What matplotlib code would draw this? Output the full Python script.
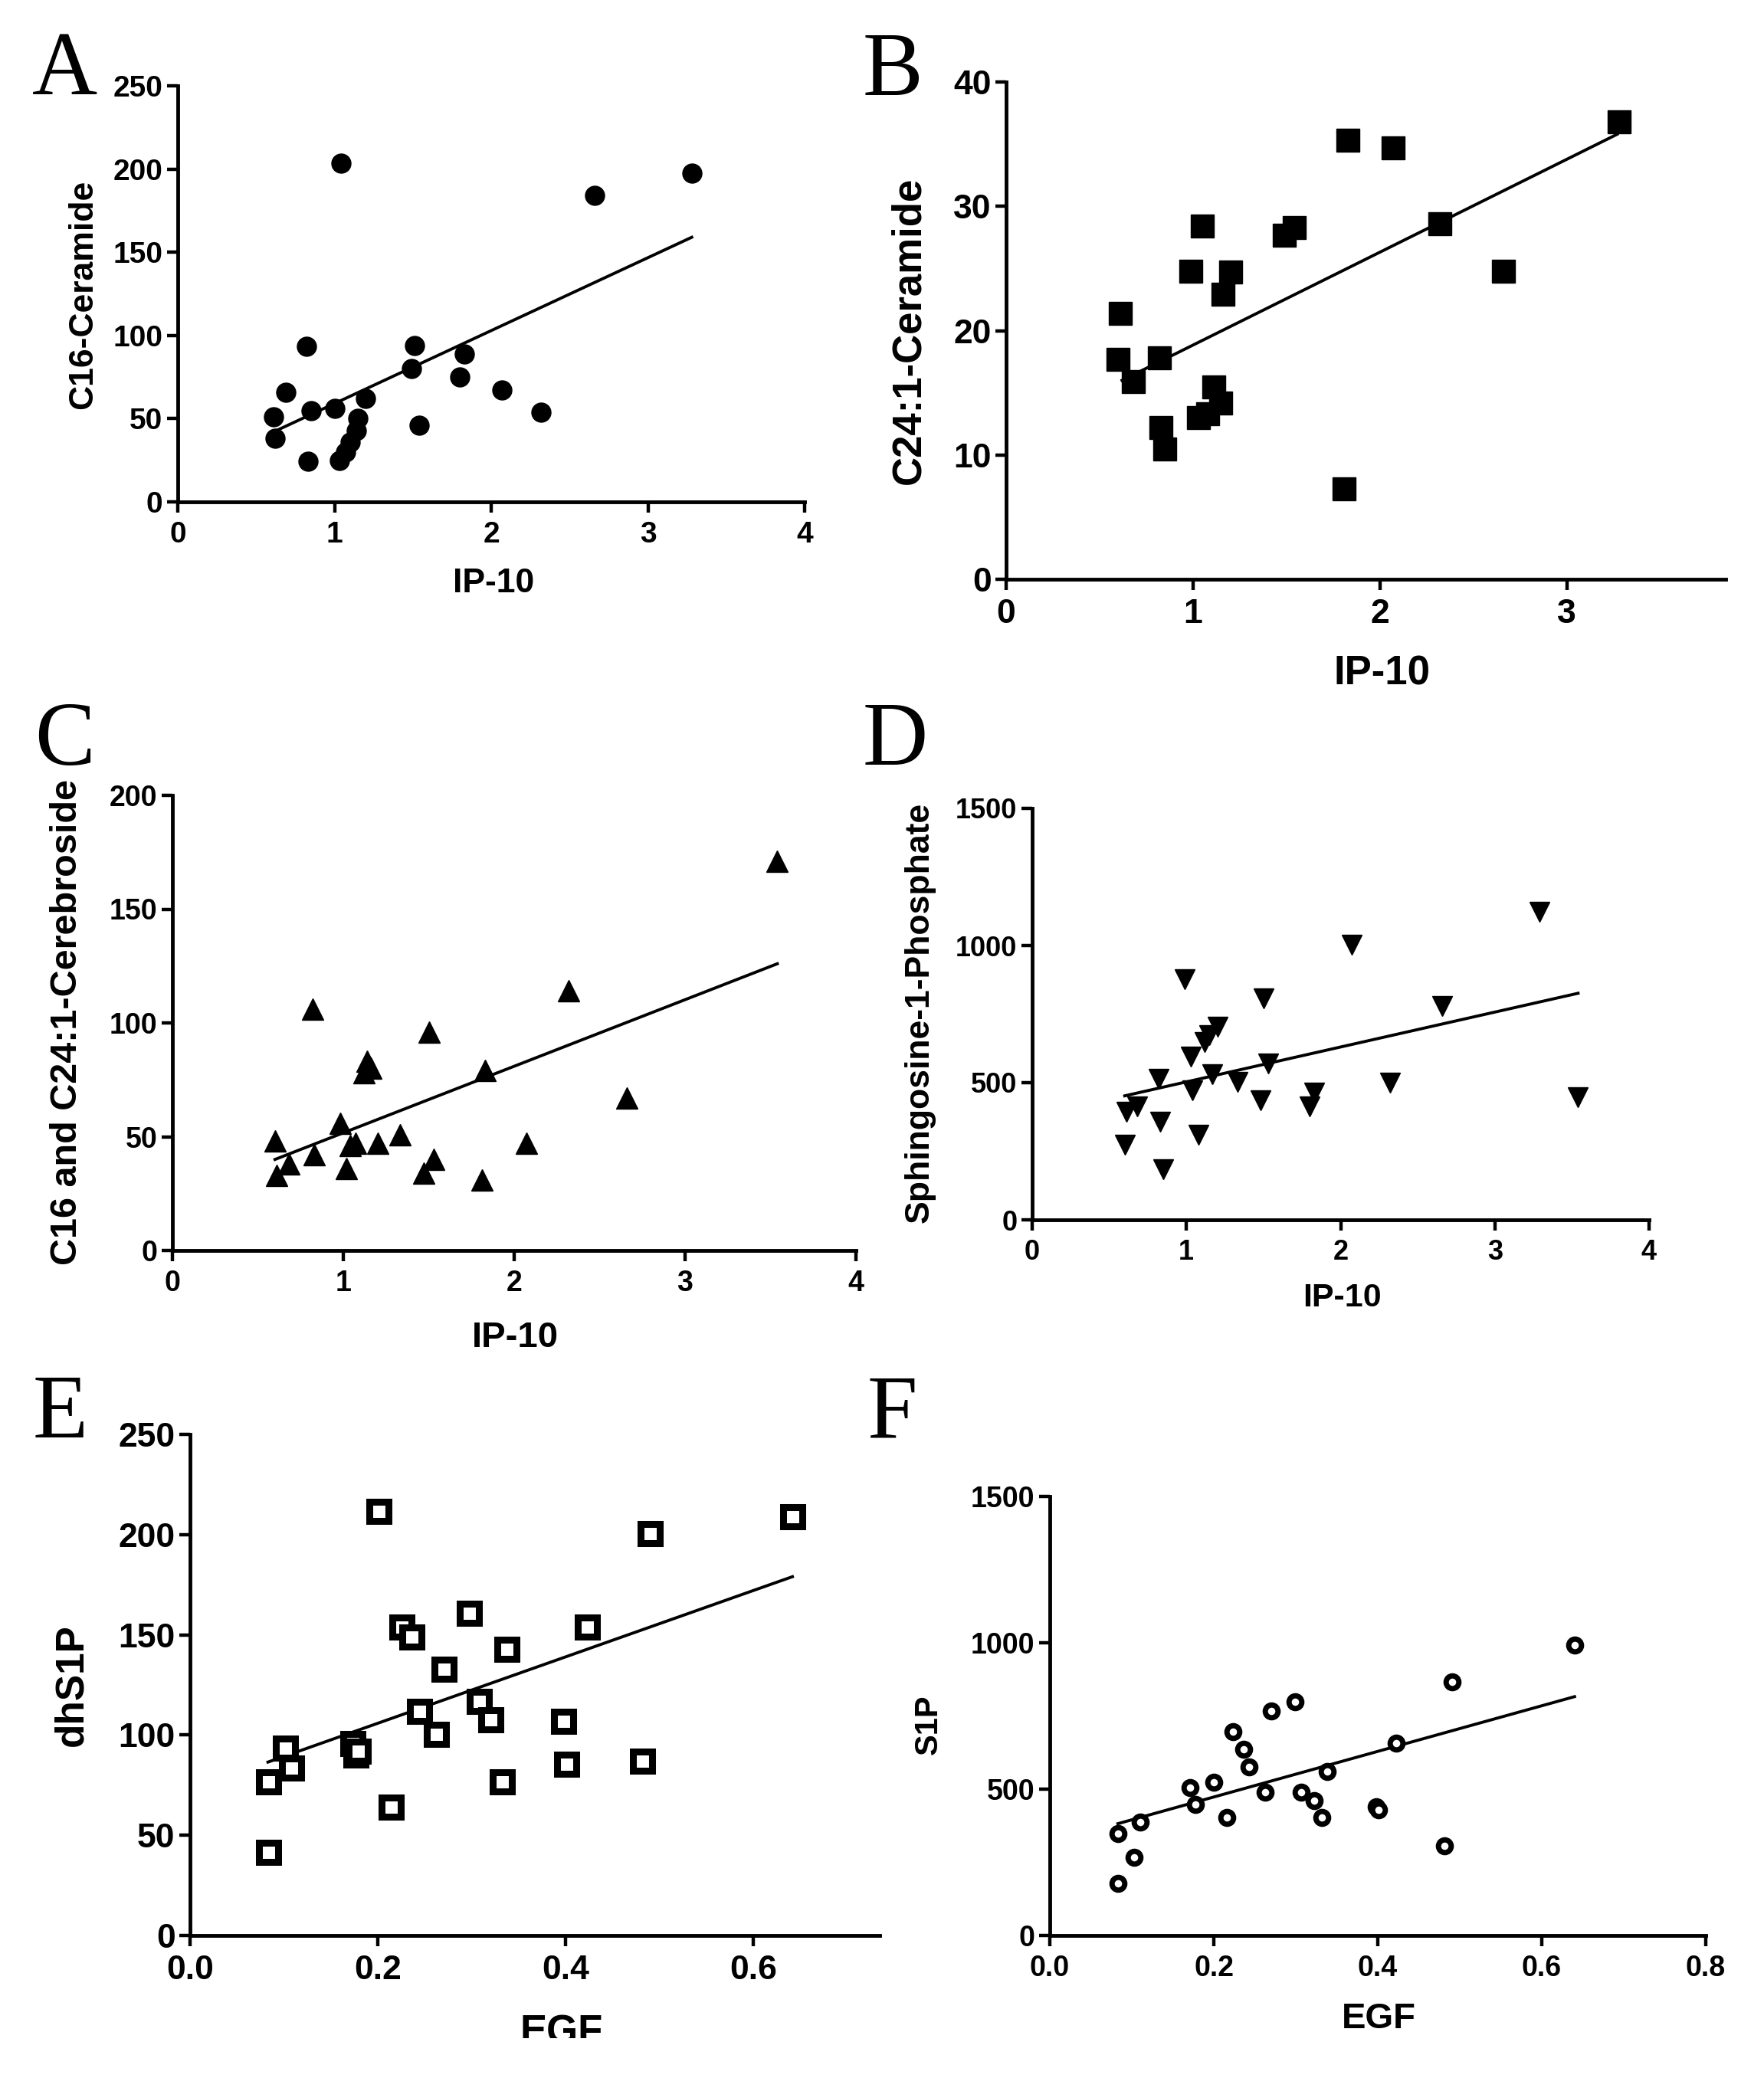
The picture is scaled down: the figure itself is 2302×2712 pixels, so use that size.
import numpy as np
import matplotlib
matplotlib.use("Agg")
import matplotlib.pyplot as plt
from matplotlib.patches import Rectangle

W, H = 2302, 2712
DPI = 100
SANS = ['Liberation Sans', 'DejaVu Sans']
SERIF = ['Liberation Serif', 'DejaVu Serif']

# ---- data ----
A_x = [0.61, 0.62, 0.69, 0.82, 0.85, 0.83, 1.00, 1.04, 1.03, 1.07, 1.10, 1.14, 1.15, 1.20,
       1.51, 1.49, 1.54, 1.80, 1.83, 2.07, 2.32, 2.66, 3.28]
A_y = [51, 38, 66, 93.5, 55, 24.5, 56, 203.5, 25, 30, 36, 43, 50, 62,
       94, 80, 46, 75, 89, 67, 54, 184, 197.5]
A_fit_x = [0.61, 3.28]
A_fit_y = [42, 159]

B_x = [0.61, 0.60, 0.68, 0.82, 0.83, 0.85, 0.99, 1.05, 1.03, 1.08, 1.11, 1.15, 1.16, 1.20,
       1.49, 1.54, 1.83, 1.81, 2.07, 2.32, 2.66, 3.28]
B_y = [21.4, 17.7, 15.9, 17.8, 12.2, 10.5, 24.8, 28.4, 13.0, 13.3, 15.5, 14.2, 22.9, 24.7,
       27.7, 28.3, 35.3, 7.3, 34.7, 28.6, 24.8, 36.8]
B_fit_x = [0.62, 3.27]
B_fit_y = [16.0, 35.8]

C_x = [0.60, 0.61, 0.68, 0.82, 0.83, 0.98, 1.02, 1.04, 1.07, 1.12, 1.14, 1.16, 1.20, 1.33,
       1.50, 1.47, 1.53, 1.83, 1.81, 2.07, 2.32, 2.66, 3.54]
C_y = [48, 33, 38, 106, 42, 56, 36, 46, 47, 78, 83, 80, 47, 51,
       96, 34, 40, 79, 31, 47, 114, 67, 171]
C_fit_x = [0.60, 3.54]
C_fit_y = [40, 126]

D_x = [0.60, 0.61, 0.68, 0.82, 0.83, 0.85, 0.99, 1.03, 1.04, 1.08, 1.12, 1.15, 1.20, 1.17,
       1.33, 1.50, 1.48, 1.53, 1.80, 1.83, 2.07, 2.32, 2.66, 3.29, 3.54]
D_y = [274, 394, 413, 515, 358, 184, 878, 594, 473, 310, 649, 673, 704, 531,
       504, 807, 436, 570, 413, 463, 1004, 500, 778, 1122, 447]
D_fit_x = [0.60, 3.54]
D_fit_y = [452, 826]

E_x = [0.083, 0.083, 0.101, 0.108, 0.173, 0.176, 0.179, 0.201, 0.214, 0.225, 0.236, 0.244,
       0.262, 0.270, 0.297, 0.308, 0.320, 0.337, 0.332, 0.398, 0.401, 0.423, 0.482, 0.490, 0.642]
E_y = [76.8, 41.8, 93.7, 83.6, 96, 90.3, 92, 211.8, 64.4, 154, 149, 112,
       100.5, 133, 161, 117, 107.7, 143, 76.8, 107, 85.8, 154, 87, 200.5, 209]
E_fit_x = [0.083, 0.642]
E_fit_y = [86.5, 179]

F_x = [0.083, 0.083, 0.103, 0.110, 0.171, 0.178, 0.200, 0.216, 0.223, 0.236, 0.243, 0.263,
       0.270, 0.299, 0.307, 0.322, 0.332, 0.338, 0.398, 0.401, 0.422, 0.481, 0.491, 0.640]
F_y = [178, 348, 268, 387, 506, 448, 523, 402, 696, 637, 577, 490,
       768, 799, 490, 461, 402, 560, 441, 430, 657, 305, 866, 993]
F_fit_x = [0.083, 0.640]
F_fit_y = [382, 816]

fig = plt.figure(figsize=(W / DPI, H / DPI), dpi=DPI)


def px_axes(x0, y0, x1, y1):
    # pixel box (left, bottom-of-plot y, right, top y) -> axes
    return fig.add_axes([x0 / W, (H - y0) / H, (x1 - x0) / W, (y0 - y1) / H])


def ftext(x, y, s, **kw):
    fig.text(x / W, 1 - y / H, s, **kw)


def panel(box, xs, ys, fx, fy, xlim, ylim, xticks, yticks, xfmt, tick_fs,
          mk, ms, mfc, mew):
    ax = px_axes(*box)
    ax.plot(xs, ys, ls='none', marker=mk, ms=ms, mfc=mfc, mec='black', mew=mew,
            clip_on=False, zorder=3)
    ax.plot(fx, fy, color='black', lw=2.8, zorder=2)
    ax.set_xlim(*xlim)
    ax.set_ylim(*ylim)
    ax.set_xticks(xticks)
    ax.set_yticks(yticks)
    ax.set_xticklabels([xfmt % t for t in xticks])
    ax.set_yticklabels(['%d' % t for t in yticks])
    for s in ['top', 'right']:
        ax.spines[s].set_visible(False)
    for s in ['left', 'bottom']:
        ax.spines[s].set_linewidth(3.5)
    ax.tick_params(axis='both', width=3.2, length=10, direction='out')
    ax.tick_params(axis='x', pad=8)
    ax.tick_params(axis='y', pad=4)
    for lab in ax.get_xticklabels() + ax.get_yticklabels():
        lab.set_family(SANS)
        lab.set_fontweight('bold')
        lab.set_fontsize(tick_fs)
    return ax


# A
panel((232, 655, 1050, 112), A_x, A_y, A_fit_x, A_fit_y, (0, 4), (0, 250),
      [0, 1, 2, 3, 4], [0, 50, 100, 150, 200, 250], '%d', 28, 'o', 18, 'black', 1)
# B
panel((1313, 756, 2252, 107), B_x, B_y, B_fit_x, B_fit_y, (0, 3.85), (0, 40),
      [0, 1, 2, 3], [0, 10, 20, 30, 40], '%d', 32, 's', 22, 'black', 1)
# C
panel((225, 1632, 1117, 1038), C_x, C_y, C_fit_x, C_fit_y, (0, 4), (0, 200),
      [0, 1, 2, 3, 4], [0, 50, 100, 150, 200], '%d', 27, '^', 20, 'black', 1)
# D
panel((1347, 1592, 2152, 1055), D_x, D_y, D_fit_x, D_fit_y, (0, 4), (0, 1500),
      [0, 1, 2, 3, 4], [0, 500, 1000, 1500], '%d', 26, 'v', 19, 'black', 1)
# E
panel((248, 2526, 1148, 1872), E_x, E_y, E_fit_x, E_fit_y, (0, 0.735), (0, 250),
      [0, 0.2, 0.4, 0.6], [0, 50, 100, 150, 200, 250], '%.1f', 32, 's', 18, 'white', 6.5)
# F
panel((1370, 2526, 2226, 1953), F_x, F_y, F_fit_x, F_fit_y, (0, 0.8), (0, 1500),
      [0, 0.2, 0.4, 0.6, 0.8], [0, 500, 1000, 1500], '%.1f', 27, 'o', 12, 'white', 5)

# axis titles
lab = dict(family=SANS, fontweight='bold', ha='center', va='center')
ftext(109, 384, 'C16-Ceramide', rotation=90, fontsize=32, **lab)
ftext(644, 762, 'IP-10', fontsize=32, **lab)
ftext(1186, 431, 'C24:1-Ceramide', rotation=90, fontsize=38, **lab)
ftext(1803, 880, 'IP-10', fontsize=38, **lab)
ftext(87, 1334, 'C16 and C24:1-Cerebroside', rotation=90, fontsize=35, **lab)
ftext(672, 1746, 'IP-10', fontsize=34, **lab)
ftext(1200, 1321, 'Sphingosine-1-Phosphate', rotation=90, fontsize=32, **lab)
ftext(1751, 1694, 'IP-10', fontsize=31, **lab)
ftext(94, 2199, 'dhS1P', rotation=90, fontsize=37, **lab)
ftext(733, 2654, 'EGF', fontsize=38, **lab)
ftext(1212, 2251, 'S1P', rotation=90, fontsize=30, **lab)
ftext(1799, 2635, 'EGF', fontsize=34, **lab)

# panel letters
let = dict(family=SERIF, fontsize=85, ha='left', va='baseline')
ftext(42, 123, 'A', **let)
ftext(1126, 124, 'B', **let)
ftext(45, 998, 'C', **let)
ftext(1126, 998, 'D', **let)
ftext(43, 1876, 'E', **let)
ftext(1132, 1876, 'F', **let)

# the source image is cut off just under the last row
fig.patches.append(Rectangle((0, 0), 1, 52 / H, transform=fig.transFigure,
                             facecolor='white', edgecolor='none', zorder=10))

fig.savefig('out.png', dpi=DPI, facecolor='white')
